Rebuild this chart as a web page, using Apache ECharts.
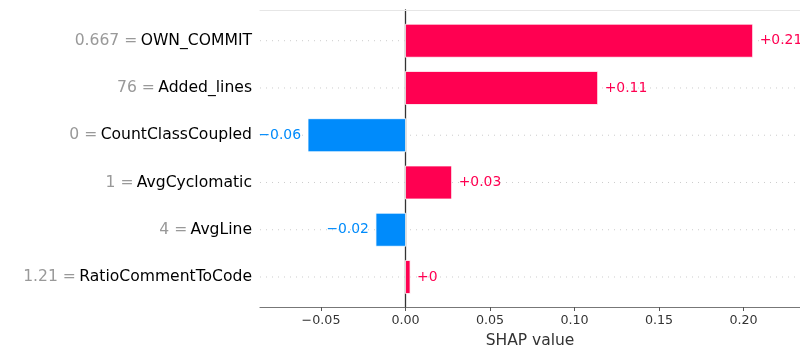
<!DOCTYPE html>
<html>
<head>
<meta charset="utf-8">
<script src="https://cdn.jsdelivr.net/npm/echarts@6/dist/echarts.min.js"></script>
<style>
  html, body { margin: 0; padding: 0; background: #fff; }
  #chart { width: 800px; height: 348px; }
</style>
</head>
<body>
<div id="chart"></div>
<script>
// Feature contributions for a single prediction (SHAP bar plot)
const featureNames = ['OWN_COMMIT', 'Added_lines', 'CountClassCoupled', 'AvgCyclomatic', 'AvgLine', 'RatioCommentToCode'];
const featureValues = [0.667, 76, 0, 1, 4, 1.21];
const shapValues = [0.2054, 0.1137, -0.0577, 0.0273, -0.0175, 0.0027];
const xTicks = [-0.05, 0, 0.05, 0.1, 0.15, 0.2];

const POS_COLOR = '#ff0051';
const NEG_COLOR = '#008bfb';
const FONT = '"DejaVu Sans", sans-serif';
const BAR_HEIGHT = 0.7;

// Trim trailing zeros and use a true minus sign, like "%+0.02f" output tidied up
function formatValue(v, digits, signed) {
  let s = v.toFixed(digits);
  if (signed && v >= 0) s = '+' + s;
  s = s.replace(/\.?0+$/, '');
  if (s === '' || s === '+' || s === '-') s += '0';
  if (s[0] === '-') s = '\u2212' + s.slice(1);
  return s;
}

// Fixed two-decimal tick text with a true minus sign
function formatTick(v) {
  const s = Math.abs(v).toFixed(2);
  return v < 0 ? '\u2212' + s : s;
}

const rowIndex = featureNames.map((_, i) => i);

const chart = echarts.init(document.getElementById('chart'), null, { renderer: 'canvas' });

chart.setOption({
  animation: false,
  backgroundColor: '#ffffff',
  grid: { left: 260, right: 0, top: 10, bottom: 41, outerBoundsMode: 'none' },
  xAxis: [
    {
      type: 'value',
      position: 'bottom',
      min: -0.0861,
      max: 0.2334,
      axisLine: { show: true, onZero: false, lineStyle: { color: '#777777', width: 1.2 } },
      axisTick: { show: true, customValues: xTicks, length: 4, lineStyle: { color: '#555555', width: 1 } },
      axisLabel: {
        customValues: xTicks,
        formatter: formatTick,
        color: '#333333',
        fontFamily: FONT,
        fontSize: 12.7,
        margin: 7
      },
      splitLine: { show: false },
      name: 'SHAP value',
      nameLocation: 'middle',
      nameGap: 26,
      nameTextStyle: { color: '#333333', fontFamily: FONT, fontSize: 15.5 }
    },
    {
      type: 'value',
      position: 'top',
      min: -0.0861,
      max: 0.2334,
      axisLine: { show: true, onZero: false, lineStyle: { color: '#e6e6e6', width: 1.2 } },
      axisTick: { show: false },
      axisLabel: { show: false },
      splitLine: { show: false }
    }
  ],
  yAxis: [
    {
      type: 'value',
      inverse: true,
      min: -0.65,
      max: 5.635,
      axisLine: { show: false },
      axisTick: { show: false },
      splitLine: { show: false },
      axisLabel: {
        customValues: rowIndex,
        margin: 8,
        formatter: i => '{v|' + formatValue(featureValues[i], 3, false) + ' =} {n|' + featureNames[i] + '}',
        rich: {
          v: { color: '#999999', fontFamily: FONT, fontSize: 15.6 },
          n: { color: '#000000', fontFamily: FONT, fontSize: 15.6 }
        }
      }
    },
    {
      // zero reference line
      type: 'value',
      inverse: true,
      min: -0.65,
      max: 5.635,
      axisLine: { show: true, onZero: true, lineStyle: { color: '#333333', width: 1.3 } },
      axisTick: { show: false },
      axisLabel: { show: false },
      splitLine: { show: false }
    }
  ],
  series: [
    {
      // dotted row guides behind the bars
      type: 'custom',
      z: 1,
      silent: true,
      data: rowIndex.map(i => [0, i]),
      encode: { x: 0, y: 1 },
      renderItem(params, api) {
        const cs = params.coordSys;
        const y = api.coord([0, api.value(1)])[1];
        return {
          type: 'line',
          shape: { x1: cs.x, y1: y, x2: cs.x + cs.width, y2: y },
          style: { stroke: '#cccccc', lineWidth: 1, lineDash: [1, 5] }
        };
      }
    },
    {
      type: 'custom',
      z: 3,
      data: shapValues.map((v, i) => [v, i]),
      encode: { x: 0, y: 1 },
      renderItem(params, api) {
        const v = api.value(0);
        const i = api.value(1);
        const p0 = api.coord([0, i]);
        const p1 = api.coord([v, i]);
        const h = api.size([0, BAR_HEIGHT])[1];
        const color = v >= 0 ? POS_COLOR : NEG_COLOR;
        const left = Math.min(p0[0], p1[0]);
        const width = Math.abs(p1[0] - p0[0]);
        return {
          type: 'group',
          children: [
            {
              type: 'rect',
              shape: { x: left, y: p0[1] - h / 2, width: width, height: h },
              style: { fill: color, stroke: 'rgba(255,255,255,0.8)', lineWidth: 1 }
            },
            {
              type: 'text',
              style: {
                text: formatValue(v, 2, true),
                x: v >= 0 ? p1[0] + 7 : p1[0] - 7,
                y: p0[1],
                align: v >= 0 ? 'left' : 'right',
                verticalAlign: 'middle',
                fill: color,
                font: '13.9px ' + FONT
              }
            }
          ]
        };
      }
    }
  ]
});
</script>
</body>
</html>
